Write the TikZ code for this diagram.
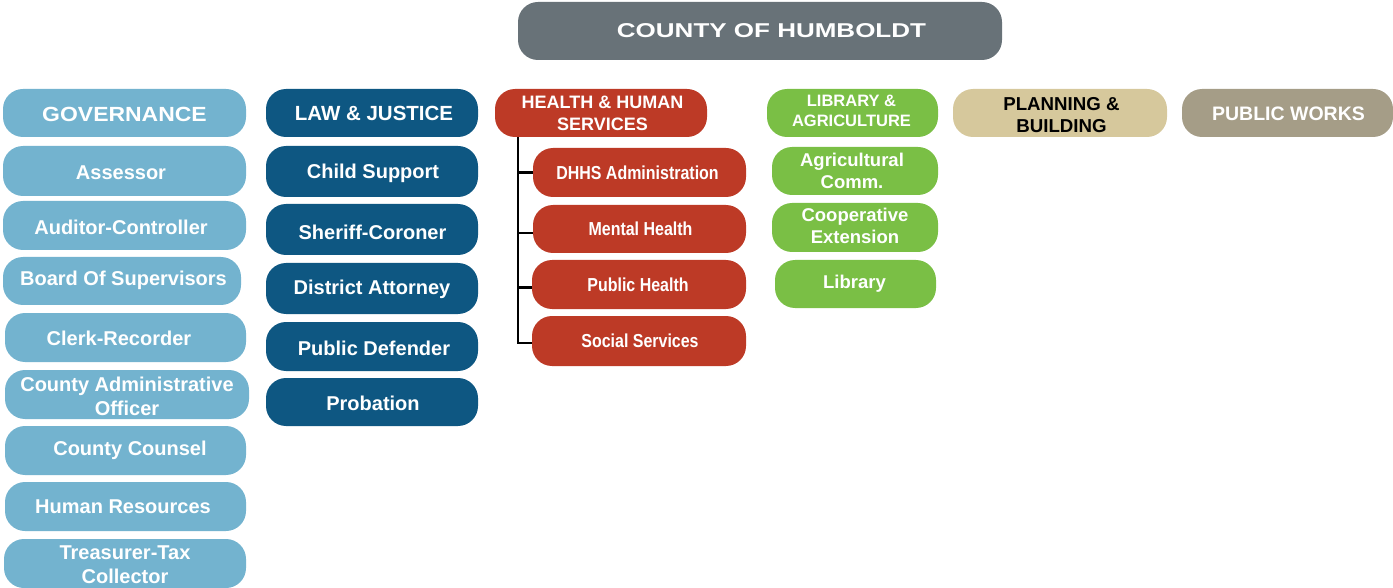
\documentclass[tikz,border=0pt]{standalone}
\usepackage{fontspec}
\setmainfont{Liberation Sans}
\newfontfamily\narrowfont{Liberation Sans}[FakeStretch=0.85]
\newfontfamily\widefont{Liberation Sans}[FakeStretch=1.3]
\newfontfamily\semiwidefont{Liberation Sans}[FakeStretch=1.12]
\definecolor{cgrey}{HTML}{687278}
\definecolor{cgov}{HTML}{73B3CF}
\definecolor{claw}{HTML}{0E5782}
\definecolor{chhs}{HTML}{BD3A26}
\definecolor{clib}{HTML}{7ABF45}
\definecolor{cplan}{HTML}{D6C89C}
\definecolor{cpw}{HTML}{A59D87}
% name, x1, y1, x2, y2, style, text, dx, dy
\newcommand{\bx}[9]{%
  \pgfmathsetmacro\bw{#4-#2}\pgfmathsetmacro\bh{#5-#3}%
  \node[#6, minimum width=\bw pt, minimum height=\bh pt] (#1) at ({(#2+#4)/2},{(#3+#5)/2}) {};
  \node[#6txt] (#1-txt) at ([xshift=#8pt,yshift=-#9pt]#1.center) {#7};}
\tikzset{
  pill/.style={rounded corners=20pt, inner sep=0pt},
  ptxt/.style={inner sep=0pt, align=center, text=white, font=\bfseries\fontsize{20}{24}\selectfont},
  gov/.style={pill, fill=cgov}, govtxt/.style={ptxt},
  law/.style={pill, fill=claw}, lawtxt/.style={ptxt},
  hhs/.style={pill, fill=chhs}, hhstxt/.style={ptxt, font=\narrowfont\bfseries\fontsize{18.8}{22}\selectfont},
  hhshead/.style={pill, fill=chhs}, hhsheadtxt/.style={ptxt, font=\bfseries\fontsize{18}{22}\selectfont},
  lib/.style={pill, fill=clib}, libtxt/.style={ptxt, font=\bfseries\fontsize{18.5}{22}\selectfont},
  libhead/.style={pill, fill=clib}, libheadtxt/.style={ptxt, font=\bfseries\fontsize{16.5}{20}\selectfont},
  plan/.style={pill, fill=cplan}, plantxt/.style={ptxt, text=black, font=\bfseries\fontsize{18.7}{22}\selectfont},
  pw/.style={pill, fill=cpw}, pwtxt/.style={ptxt, font=\bfseries\fontsize{19.5}{22}\selectfont},
  top/.style={pill, fill=cgrey}, toptxt/.style={ptxt, font=\widefont\bfseries\fontsize{20}{22}\selectfont},
  link/.style={line width=2.8pt, black}
}
\begin{document}
\begin{tikzpicture}[x=1pt,y=-1pt]
\useasboundingbox (0,0) rectangle (1393,588);
\bx{county}{518}{2}{1002}{60}{top}{COUNTY OF HUMBOLDT}{11.5}{0}
% Governance
\bx{gov}{3}{89}{246}{137}{gov}{{\semiwidefont\fontsize{20.5}{24}\selectfont GOVERNANCE}}{0}{1}
\bx{assessor}{3}{146}{246}{196}{gov}{Assessor}{-3.5}{2}
\bx{auditor}{3}{201}{246}{250}{gov}{Auditor-Controller}{-3.5}{2}
\bx{board}{3}{257}{241}{305}{gov}{Board Of Supervisors}{1.5}{-1}
\bx{clerk}{5}{313}{246}{362}{gov}{Clerk-Recorder}{-6.5}{1}
\bx{cao}{5}{370}{249}{419}{gov}{County Administrative\\Officer}{0}{2}
\bx{counsel}{5}{426}{246}{475}{gov}{County Counsel}{4.5}{0}
\bx{hr}{5}{482}{246}{531}{gov}{Human Resources}{-2.5}{0}
\bx{ttc}{4}{539}{246}{588}{gov}{Treasurer-Tax\\Collector}{0}{1}
% Law & Justice
\bx{law}{266}{89}{478}{137}{law}{{\fontsize{20.5}{24}\selectfont LAW \& JUSTICE}}{2}{0}
\bx{child}{266}{146}{478}{197}{law}{Child Support}{1}{2}
\bx{sheriff}{266}{204}{478}{255}{law}{Sheriff-Coroner}{0.5}{3}
\bx{da}{266}{263}{478}{314}{law}{District Attorney}{0}{1}
\bx{pd}{266}{322}{478}{371}{law}{Public Defender}{2}{2}
\bx{prob}{266}{378}{478}{426}{law}{Probation}{1}{1}
% HHS
\bx{hhs}{495}{89}{707}{137}{hhshead}{HEALTH \& HUMAN\\SERVICES}{1.5}{0}
\bx{dhhs}{533}{148}{746}{197}{hhs}{DHHS Administration}{-2}{0}
\bx{mental}{533}{205}{746}{253}{hhs}{Mental Health}{1}{0}
\bx{public}{532}{260}{746}{309}{hhs}{Public Health}{-1}{0}
\bx{social}{532}{316}{746}{366}{hhs}{Social Services}{1}{0}
\coordinate (trunk) at (518,137);
\draw[link] (trunk) |- ([yshift=-2pt]social.west);
\draw[link] (trunk |- dhhs.west) -- (dhhs.west);
\draw[link] ([yshift=-4pt]trunk |- mental.west) -- ([yshift=-4pt]mental.west);
\draw[link] ([yshift=-3pt]trunk |- public.west) -- ([yshift=-3pt]public.west);
% Library & Agriculture
\bx{lib}{767}{89}{938}{137}{libhead}{LIBRARY \&\\AGRICULTURE}{-1}{-2}
\bx{agcomm}{772}{147}{938}{195}{lib}{Agricultural\\Comm.}{-3}{0}
\bx{coop}{772}{203}{938}{252}{lib}{Cooperative\\Extension}{0}{-2}
\bx{library}{775}{260}{936}{308}{lib}{Library}{-1}{0}
% Planning, Public Works
\bx{plan}{953}{89}{1167}{137}{plan}{PLANNING \&\\BUILDING}{1.5}{2}
\bx{pw}{1182}{89}{1393}{137}{pw}{PUBLIC WORKS}{1}{1}
\end{tikzpicture}
\end{document}
